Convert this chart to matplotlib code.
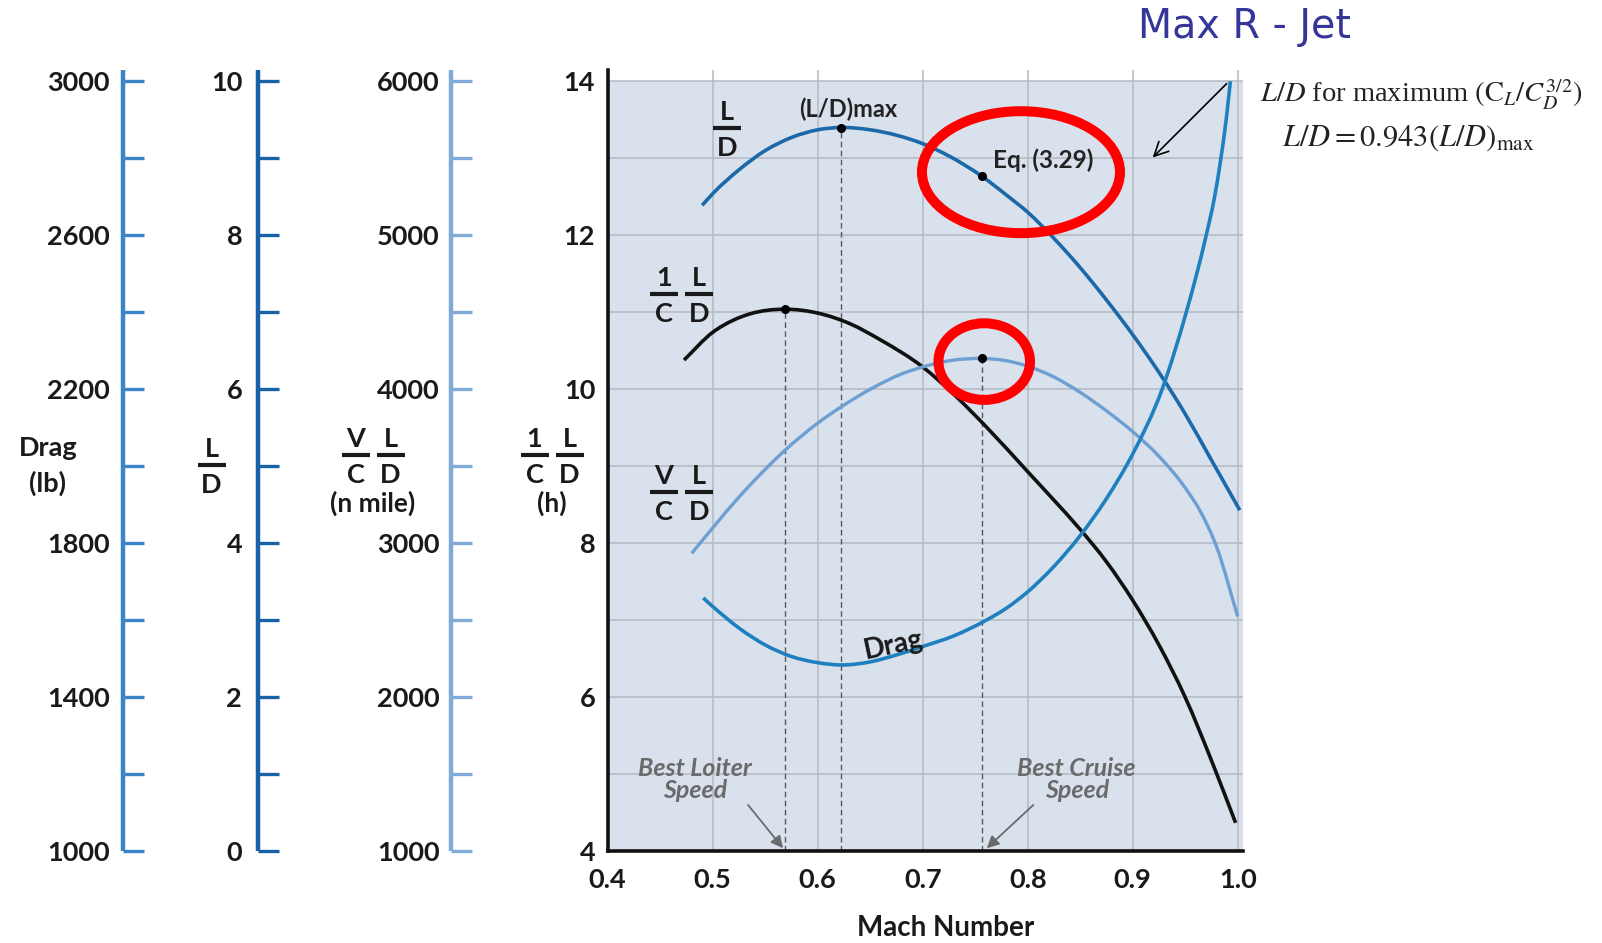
import matplotlib
matplotlib.use("Agg")
import numpy as np
import matplotlib.pyplot as plt
from matplotlib.patches import Ellipse, PathPatch
from matplotlib.path import Path
from matplotlib.lines import Line2D

plt.rcParams['font.family'] = ['Lato', 'DejaVu Sans']

# ---- data (main axis units 4..14) ----
ld_mach = [0.49, 0.50, 0.525, 0.55, 0.575, 0.60, 0.622, 0.65, 0.675, 0.70, 0.725,
           0.756, 0.78, 0.80, 0.825, 0.85, 0.875, 0.90, 0.925, 0.95, 0.975, 1.002]
ld_vals = [12.39, 12.54, 12.85, 13.10, 13.27, 13.37, 13.40, 13.37, 13.30, 13.19, 13.03,
           12.77, 12.52, 12.30, 11.96, 11.58, 11.16, 10.71, 10.22, 9.68, 9.08, 8.43]

endur_mach = [0.4727, 0.50, 0.52, 0.5356, 0.569, 0.60, 0.631, 0.66, 0.70, 0.73,
              0.76, 0.80, 0.825, 0.85, 0.875, 0.90, 0.925, 0.95, 0.975, 0.998]
endur_vals = [10.38, 10.74, 10.90, 10.98, 11.04, 10.99, 10.85, 10.64, 10.29, 9.93,
              9.52, 8.93, 8.56, 8.18, 7.76, 7.26, 6.68, 6.00, 5.18, 4.37]

range_mach = [0.48, 0.50, 0.525, 0.55, 0.569, 0.60, 0.621, 0.65, 0.68, 0.70, 0.73,
              0.756, 0.78, 0.80, 0.825, 0.85, 0.875, 0.90, 0.925, 0.95, 0.965, 0.98, 1.0]
range_vals = [7.87, 8.20, 8.60, 8.96, 9.21, 9.56, 9.76, 10.00, 10.20, 10.29, 10.38,
              10.40, 10.37, 10.30, 10.16, 9.96, 9.72, 9.45, 9.13, 8.72, 8.40, 7.95, 7.05]

drag_mach = [0.491, 0.50, 0.525, 0.55, 0.575, 0.60, 0.623, 0.65, 0.675, 0.70, 0.73,
             0.759, 0.78, 0.80, 0.825, 0.85, 0.875, 0.90, 0.928, 0.951, 0.961, 0.970,
             0.978, 0.984, 0.989, 0.993]
drag_vals = [7.29, 7.18, 6.90, 6.68, 6.53, 6.45, 6.42, 6.46, 6.55, 6.66, 6.80,
             6.99, 7.16, 7.37, 7.70, 8.10, 8.58, 9.16, 10.00, 11.00, 11.50, 12.00,
             12.50, 13.00, 13.50, 14.00]

loiter_mach = 0.569
ldmax_mach = 0.622
cruise_mach = 0.756

main_yticks = [4, 6, 8, 10, 12, 14]
main_xticks = [0.4, 0.5, 0.6, 0.7, 0.8, 0.9, 1.0]
drag_scale = [1000, 1200, 1400, 1600, 1800, 2000, 2200, 2400, 2600, 2800, 3000]
ld_scale = [0, 1, 2, 3, 4, 5, 6, 7, 8, 9, 10]
range_scale = [1000, 1500, 2000, 2500, 3000, 3500, 4000, 4500, 5000, 5500, 6000]

# ---- figure ----
W, H = 1602, 943
fig = plt.figure(figsize=(W / 100, H / 100), dpi=100)

bottom = 1 - 851.3 / H
height = 10.15 * 77 / H
TXT = '#1a1a1a'
BOLD = 'bold'


def smooth_line(ax, xs, ys, color, lw):
    # smooth curve through the read points (cubic Hermite drawn as Bezier segments)
    x = np.asarray(xs, float)
    y = np.asarray(ys, float)
    h = np.diff(x)
    d = np.diff(y) / h
    m = np.empty_like(y)
    m[0], m[-1] = d[0], d[-1]
    m[1:-1] = (d[:-1] * h[1:] + d[1:] * h[:-1]) / (h[:-1] + h[1:])
    verts = [(x[0], y[0])]
    codes = [Path.MOVETO]
    for i in range(len(h)):
        verts += [(x[i] + h[i] / 3, y[i] + m[i] * h[i] / 3),
                  (x[i + 1] - h[i] / 3, y[i + 1] - m[i + 1] * h[i] / 3),
                  (x[i + 1], y[i + 1])]
        codes += [Path.CURVE4] * 3
    ax.add_patch(PathPatch(Path(verts, codes), fill=False, edgecolor=color, lw=lw,
                           capstyle='butt', zorder=3))


def fraction(xc, ybar, parts, size=19.5, color=TXT):
    # stacked bold fraction(s) placed in figure pixels (y measured from top)
    step = 35
    x0 = xc - step * (len(parts) - 1) / 2
    for k, (num, den) in enumerate(parts):
        x = x0 + k * step
        fig.text(x / W, 1 - (ybar - 8) / H, num, fontsize=size, fontweight=BOLD,
                 color=color, ha='center', va='baseline')
        fig.text(x / W, 1 - (ybar + 28) / H, den, fontsize=size, fontweight=BOLD,
                 color=color, ha='center', va='baseline')
        fig.add_artist(Line2D([(x - 14) / W, (x + 14) / W], [1 - ybar / H] * 2,
                              color=color, lw=3.0, solid_capstyle='butt'))


ax = fig.add_axes([607.7 / W, bottom, 0.605 * 1050 / W, height])
ax.set_xlim(0.4, 1.005)
ax.set_ylim(4, 14.15)
ax.set_facecolor('none')
ax.axhspan(4, 14, color='#d9e1ed', zorder=0, lw=0)
for y in range(5, 15):
    ax.axhline(y, color='#b3b9c3', lw=1.1, zorder=1)
for x in main_xticks[1:]:
    ax.axvline(x, color='#b3b9c3', lw=1.1, zorder=1)
for s in ['top', 'right']:
    ax.spines[s].set_visible(False)
for s in ['left', 'bottom']:
    ax.spines[s].set_linewidth(2.6)
    ax.spines[s].set_color('#111111')
ax.set_xticks(main_xticks)
ax.set_xticklabels([f'{v:.1f}' for v in main_xticks])
ax.set_yticks(main_yticks)
ax.tick_params(axis='both', length=0, labelsize=19.5, labelcolor=TXT)
ax.tick_params(axis='x', pad=12)
ax.tick_params(axis='y', pad=9)
for t in ax.get_xticklabels() + ax.get_yticklabels():
    t.set_fontweight(BOLD)

# curves
smooth_line(ax, ld_mach, ld_vals, '#1b69a8', 2.6)
smooth_line(ax, endur_mach, endur_vals, '#111111', 2.6)
smooth_line(ax, range_mach, range_vals, '#6d9fd2', 2.4)
smooth_line(ax, drag_mach, drag_vals, '#1f80c0', 2.6)

# guide lines and points
ld_peak = ld_vals[ld_mach.index(ldmax_mach)]
ld_cruise = ld_vals[ld_mach.index(cruise_mach)]
end_peak = endur_vals[endur_mach.index(loiter_mach)]
rng_peak = range_vals[range_mach.index(cruise_mach)]
dash = dict(color='#5a5a5a', lw=1.0, ls=(0, (4, 2.5)), zorder=2)
ax.vlines(loiter_mach, main_yticks[0], end_peak, **dash)
ax.vlines(ldmax_mach, main_yticks[0], ld_peak, **dash)
ax.vlines(cruise_mach, main_yticks[0], rng_peak, **dash)
ax.plot([ldmax_mach, cruise_mach, loiter_mach, cruise_mach],
        [ld_peak, ld_cruise, end_peak, rng_peak], 'o', color='black', ms=5.5, zorder=5)

# curve labels
fraction(727, 128, [('L', 'D')])
fraction(681.5, 294, [('1', 'C'), ('L', 'D')])
fraction(681.5, 492, [('V', 'C'), ('L', 'D')])
ax.text(0.629, 13.64, '(L/D)max', fontsize=17, fontweight=BOLD, color='#222222',
        ha='center', va='center')
ax.text(0.7667, 12.98, 'Eq. (3.29)', fontsize=17.5, fontweight=BOLD, color='#222222',
        ha='left', va='center')
ax.text(0.672, 6.68, 'Drag', fontsize=20, fontweight=BOLD, color=TXT, ha='center',
        va='center', rotation=12)

gray = '#6a6a6a'
ax.annotate('Best Loiter\nSpeed', xy=(0.567, 4.04), xytext=(0.483, 4.93),
            fontsize=18, fontweight=BOLD, style='italic', color=gray, ha='center',
            va='center', linespacing=0.95,
            arrowprops=dict(arrowstyle='-|>', color=gray, lw=1.3, mutation_scale=18,
                            shrinkA=0, shrinkB=0, relpos=(0.9, 0.15)))
ax.annotate('Best Cruise\nSpeed', xy=(0.761, 4.04), xytext=(0.8467, 4.93),
            fontsize=18, fontweight=BOLD, style='italic', color=gray, ha='center',
            va='center', linespacing=0.95,
            arrowprops=dict(arrowstyle='-|>', color=gray, lw=1.3, mutation_scale=18,
                            shrinkA=0, shrinkB=0, relpos=(0.22, 0.15)))

# highlight rings and pointer arrow
ax.add_patch(Ellipse((0.7936, 12.82), 0.1886, 1.584, fill=False, ec='#ff0000', lw=7.2, zorder=6))
ax.add_patch(Ellipse((0.7586, 10.36), 0.0872, 0.995, fill=False, ec='#ff0000', lw=7.2, zorder=6))
ax.annotate('', xy=(0.919, 13.01), xytext=(0.9895, 13.97),
            arrowprops=dict(arrowstyle='->', color='black', lw=1.2, mutation_scale=25,
                            shrinkA=0, shrinkB=0), annotation_clip=False)


# ---- left scales ----
def side_scale(xpix, lo, hi, ticks, labels, color, pad):
    a = fig.add_axes([xpix / W, bottom, 0.0001, height])
    a.set_ylim(lo, hi)
    a.set_xticks([])
    for s in ['top', 'right', 'bottom']:
        a.spines[s].set_visible(False)
    a.spines['left'].set_color(color)
    a.spines['left'].set_linewidth(3.2)
    a.spines['left'].set_capstyle('butt')
    a.set_facecolor('none')
    a.set_yticks(ticks)
    a.set_yticklabels(labels, fontweight=BOLD)
    a.tick_params(axis='y', direction='in', length=15, width=2.4, color=color,
                  labelsize=19.5, labelcolor=TXT, pad=pad)
    return a


side_scale(122.6, 1000, 3030, drag_scale,
           [str(v) if (v - 1000) % 400 == 0 else '' for v in drag_scale], '#3b84c8', 9)
side_scale(257.5, 0, 10.15, ld_scale,
           [str(v) if v % 2 == 0 else '' for v in ld_scale], '#1a62a8', 11)
side_scale(450.6, 1000, 6075, range_scale,
           [str(v) if v % 1000 == 0 else '' for v in range_scale], '#7fabd9', 8)

# axis titles
fig.text(48 / W, 1 - 466 / H, 'Drag\n(lb)', fontsize=19.5, fontweight=BOLD, color=TXT,
         ha='center', va='center', linespacing=1.55)
fraction(211.5, 465, [('L', 'D')])
fraction(373, 455, [('V', 'C'), ('L', 'D')])
fig.text(373 / W, 1 - 503 / H, '(n mile)', fontsize=19, fontweight=BOLD, color=TXT,
         ha='center', va='center')
fraction(552, 455, [('1', 'C'), ('L', 'D')])
fig.text(552 / W, 1 - 503 / H, '(h)', fontsize=19, fontweight=BOLD, color=TXT,
         ha='center', va='center')
fig.text(946 / W, 1 - 928 / H, 'Mach Number', fontsize=20, fontweight=BOLD, color=TXT,
         ha='center', va='center')

# title and formula
fig.text(1245 / W, 1 - 27 / H, 'Max R - Jet', fontsize=28.5, family='DejaVu Sans',
         color='#35359a', ha='center', va='center')
fig.text(1260 / W, 1 - 95 / H, r'$L/D$ for maximum $(\mathrm{C}_L/C_D^{3/2})$',
         fontsize=20.5, family='Liberation Serif', math_fontfamily='stix',
         color='#222222', ha='left', va='center')
fig.text(1282 / W, 1 - 138 / H, r'$L/D = 0.943\left(L/D\right)_{\max}$',
         fontsize=22, family='Liberation Serif', math_fontfamily='stix',
         color='#222222', ha='left', va='center')

fig.savefig('out.png', dpi=100)
